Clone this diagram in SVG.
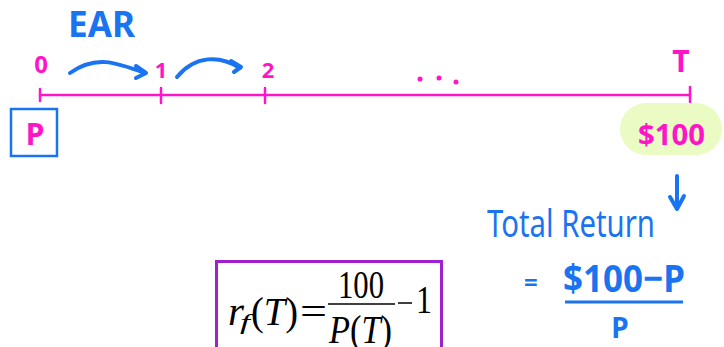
<svg xmlns="http://www.w3.org/2000/svg" width="724" height="347" viewBox="0 0 724 347">
<style>
.mg{fill:#ff14c8;font-family:"Noto Sans","Liberation Sans",sans-serif;font-weight:bold}
.bl{fill:#1a73f0;font-family:"Noto Sans","Liberation Sans",sans-serif}
.tm{font-family:"Liberation Serif",serif;fill:#000;font-size:40px}
.it{font-style:italic}
.bls{stroke:#1a73f0;fill:none;stroke-width:4;stroke-linecap:round;stroke-linejoin:round}
.mgs{stroke:#ff14c8;fill:none;stroke-width:2.5;stroke-linecap:round}
</style>
<rect width="724" height="347" fill="#fff"/>
<g id="connectors">
<line class="mgs" x1="40" y1="95" x2="690" y2="95"/>
<line class="mgs" x1="40" y1="89" x2="40" y2="101"/>
<line class="mgs" x1="161" y1="88" x2="161" y2="103" stroke-width="3.5"/>
<line class="mgs" x1="265" y1="88" x2="265" y2="103" stroke-width="3.5"/>
<line class="mgs" x1="690" y1="87" x2="690" y2="102" stroke-width="3.5"/>
<path class="bls" d="M70 73 C95 55 115 62 145 73"/>
<path class="bls" d="M136 66 L146 73 L136 78"/>
<path class="bls" d="M177 77 C195 55 220 55 240 68"/>
<path class="bls" d="M231 61 L241 67 L234 72"/>
<path class="bls" d="M677 176 L677 208 M670 197 L677 209 L684 196" stroke-width="3"/>
</g>
<g id="ear"><text class="bl" x="68" y="37" font-size="35" font-weight="bold" textLength="67" lengthAdjust="spacingAndGlyphs">EAR</text></g>
<g id="labels">
<text class="mg" x="41" y="73" font-size="24" text-anchor="middle">0</text>
<text class="mg" x="161" y="78" font-size="22" text-anchor="middle">1</text>
<text class="mg" x="268" y="78" font-size="22" text-anchor="middle">2</text>
<text class="mg" x="681" y="72" font-size="30" text-anchor="middle">T</text>
<circle cx="420" cy="79" r="2.5" fill="#ff14c8"/>
<circle cx="439" cy="78" r="2.5" fill="#ff14c8"/>
<circle cx="456" cy="82" r="2.5" fill="#ff14c8"/>
</g>
<g id="p-box">
<rect x="11" y="109" width="46" height="47" fill="none" stroke="#1a73f0" stroke-width="2.5"/>
<text class="mg" x="35" y="145" font-size="30" text-anchor="middle">P</text>
</g>
<g id="payoff">
<rect x="620" y="103" width="102" height="52" rx="26" fill="#eafbc4"/>
<text class="mg" x="638" y="145" font-size="28" font-weight="normal" fill="#e63cb4" textLength="67" lengthAdjust="spacingAndGlyphs">$100</text>
</g>
<g id="total-return">
<text class="bl" x="487" y="237" font-size="38" textLength="168" lengthAdjust="spacingAndGlyphs">Total Return</text>
<text class="bl" x="524" y="291" font-size="24" font-weight="bold">=</text>
<text class="bl" x="563" y="292" font-size="38" font-weight="bold" textLength="122" lengthAdjust="spacingAndGlyphs">$100−P</text>
<line x1="565" y1="302" x2="683" y2="302" stroke="#1a73f0" stroke-width="3"/>
<text class="bl" x="620" y="338" font-size="28" font-weight="bold" text-anchor="middle">P</text>
</g>
<g id="formula">
<rect x="216.5" y="261.5" width="225" height="90" fill="none" stroke="#a020d0" stroke-width="3"/>
<text class="tm it" x="228" y="325" textLength="16" lengthAdjust="spacingAndGlyphs">r</text>
<text class="tm it" x="240" y="329" style="font-size:21px" textLength="10" lengthAdjust="spacingAndGlyphs">f</text>
<text class="tm" x="251" y="325" textLength="47" lengthAdjust="spacingAndGlyphs">(<tspan class="it">T</tspan>)</text>
<text class="tm" x="300" y="325" textLength="27" lengthAdjust="spacingAndGlyphs">=</text>
<text class="tm" x="338" y="298" textLength="46" lengthAdjust="spacingAndGlyphs">100</text>
<line x1="328" y1="304" x2="395" y2="304" stroke="#000" stroke-width="1.5"/>
<text class="tm" x="329" y="343" textLength="63" lengthAdjust="spacingAndGlyphs"><tspan class="it">P</tspan>(<tspan class="it">T</tspan>)</text>
<line x1="398" y1="303" x2="412" y2="303" stroke="#000" stroke-width="1.5"/>
<text class="tm" x="416" y="313" textLength="16" lengthAdjust="spacingAndGlyphs">1</text>
</g>
</svg>
